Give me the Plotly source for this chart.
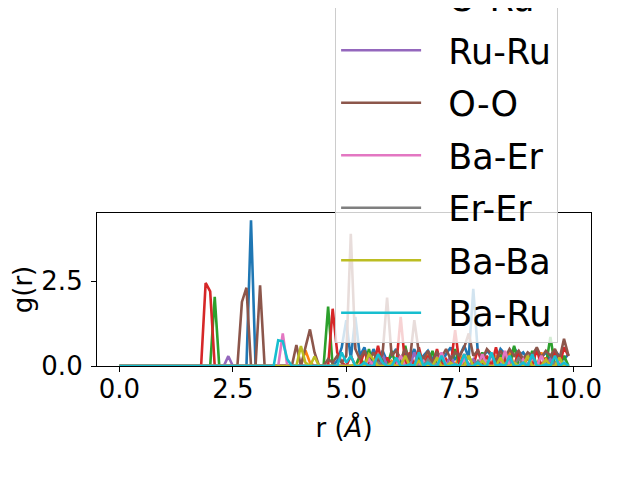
import plotly.graph_objects as go

r = [round(i * 0.1, 1) for i in range(100)]

names = ["Ba-O", "Er-Ru", "Er-O", "O-Ru", "Ru-Ru", "O-O", "Ba-Er", "Er-Er", "Ba-Ba", "Ba-Ru"]
colors = ["#1f77b4", "#ff7f0e", "#2ca02c", "#d62728", "#9467bd",
          "#8c564b", "#e377c2", "#7f7f7f", "#bcbd22", "#17becf"]

g_ba_o = [0, 0, 0, 0, 0, 0, 0, 0, 0, 0,
          0, 0, 0, 0, 0, 0, 0, 0, 0, 0,
          0, 0, 0, 0, 0, 0, 0, 0, 0, 4.3,
          0, 0, 0, 0, 0, 0, 0, 0, 0, 0,
          0, 0, 0, 0, 0, 0, 0, 0, 0.15, 0.55,
          1.35, 0.2, 1.45, 0.3, 0.55, 0.1, 0.5, 0.2, 0.45, 0.15,
          0.3, 0.5, 0.1, 0.35, 0.2, 0.5, 0.1, 0.3, 0.45, 0.2,
          0.4, 0.1, 0.35, 0.55, 0.2, 0.3, 0.6, 0.25, 2.28, 0.4,
          0.2, 0.45, 0.3, 0.15, 0.5, 0.35, 0.2, 0.55, 0.3, 0.4,
          0.2, 0.35, 0.5, 0.25, 0.4, 0.15, 0.45, 0.3, 0.2, 0.35]

g_er_ru = [0, 0, 0, 0, 0, 0, 0, 0, 0, 0,
           0, 0, 0, 0, 0, 0, 0, 0, 0, 0,
           0, 0, 0, 0, 0, 0, 0, 0, 0, 0,
           0, 0, 0, 0, 0, 0, 0, 0, 0, 0,
           0, 0.46, 0.1, 0, 0, 0, 0, 0, 0, 0,
           0, 0, 0, 0.2, 0, 0, 0, 0.35, 0, 0,
           0.15, 0, 0, 0, 0.3, 0, 0, 0, 0.4, 0,
           0, 0, 0.2, 0, 0, 0.35, 0, 0, 0, 0.1,
           0, 0, 0, 0.3, 0, 0, 0.45, 0, 0, 0,
           0.25, 0, 0, 0.4, 0, 0, 0, 0.3, 0, 0]

g_er_o = [0, 0, 0, 0, 0, 0, 0, 0, 0, 0,
          0, 0, 0, 0, 0, 0, 0, 0, 0, 0,
          0, 2.04, 0, 0, 0, 0, 0, 0, 0, 0,
          0, 0, 0, 0, 0, 0, 0, 0, 0, 0,
          0, 0, 0, 0, 0, 0, 1.75, 0, 0, 0,
          0, 0, 0, 0.3, 0, 0.5, 0, 0, 0.2, 0,
          0.45, 0, 0, 0.6, 0, 0, 0.3, 0, 0, 0.45,
          0, 0.25, 0, 0, 0.5, 0, 0, 0.3, 0, 0,
          0.4, 0, 0, 0, 0.35, 0, 0, 0.6, 0, 0.2,
          0, 0.45, 0, 0, 0, 0.86, 0, 0, 0.3, 0]

g_o_ru = [0, 0, 0, 0, 0, 0, 0, 0, 0, 0,
          0, 0, 0, 0, 0, 0, 0, 0, 0, 2.45,
          2.2, 0, 0, 0, 0, 0, 0, 0, 0, 0,
          0, 0, 0, 0, 0, 0, 0, 0, 0, 0,
          0, 0, 0, 0, 0, 0, 0, 1.69, 0.4, 0.1,
          0, 0.3, 0, 0, 0.45, 0, 0, 0.6, 0, 0.25,
          0, 0, 1.45, 0, 0.4, 0, 0.55, 0, 0.3, 0,
          0.5, 0, 0.2, 0, 1.06, 0, 0.35, 0, 0, 0.5,
          0, 0.3, 0, 0.55, 0, 0.2, 0, 0, 0.45, 0,
          0.3, 0, 0.5, 0, 0.25, 0, 0.4, 0, 0.55, 0.3]

g_ru_ru = [0, 0, 0, 0, 0, 0, 0, 0, 0, 0,
           0, 0, 0, 0, 0, 0, 0, 0, 0, 0,
           0, 0, 0, 0, 0.29, 0, 0, 0, 0, 0,
           0, 0, 0, 0, 0, 0, 0, 0, 0, 0,
           0, 0, 0, 0, 0, 0, 0, 0, 0, 0,
           0, 0, 0, 0, 0, 0, 0.15, 0, 0.35, 0,
           0, 0.2, 0, 0, 0, 0.4, 0, 0, 0, 0.15,
           0, 0, 0, 0.3, 0, 0, 0, 0, 0.2, 0,
           0, 0, 0.35, 0, 0, 0, 0.15, 0, 0, 0,
           0, 0.3, 0, 0, 0, 0.2, 0, 0, 0, 0]

g_o_o = [0, 0, 0, 0, 0, 0, 0, 0, 0, 0,
         0, 0, 0, 0, 0, 0, 0, 0, 0, 0,
         0, 0, 0, 0, 0, 0, 0, 1.89, 2.31, 0,
         0, 2.38, 0, 0, 0, 0, 0, 0, 0, 0.62,
         0, 0.55, 1.08, 0.4, 0, 0, 0.2, 0.1, 0.3, 0.1,
         0.3, 3.9, 0.5, 0.2, 0.45, 0.15, 0.4, 0.1, 0.35, 2.02,
         0.3, 0.45, 0.2, 0.5, 0.15, 1.35, 0.4, 0.2, 0.45, 0.1,
         0.4, 0.25, 0.5, 0.2, 0.4, 0.3, 0.55, 0.96, 0.3, 0.45,
         0.2, 0.5, 0.35, 0.15, 0.45, 0.25, 0.5, 0.3, 0.45, 0.2,
         0.4, 0.3, 0.55, 0.25, 0.45, 0.3, 0.5, 0.2, 0.8, 0.3]

g_ba_er = [0, 0, 0, 0, 0, 0, 0, 0, 0, 0,
           0, 0, 0, 0, 0, 0, 0, 0, 0, 0,
           0, 0, 0, 0, 0, 0, 0, 0, 0, 0,
           0, 0, 0, 0, 0, 0, 0.96, 0, 0, 0,
           0, 0, 0, 0, 0, 0, 0, 0, 0, 0,
           0, 0, 0, 0, 0, 0.2, 0, 0, 0, 0,
           0, 0, 0.3, 0, 0, 0, 0, 0.15, 0, 0,
           0, 0.4, 0, 0, 0, 0, 0.2, 0, 0, 0,
           0.35, 0, 0, 0, 0, 0.45, 0, 0, 0, 0.2,
           0, 0, 0, 0.3, 0, 0, 0, 0.15, 0, 0]

g_er_er = [0, 0, 0, 0, 0, 0, 0, 0, 0, 0,
           0, 0, 0, 0, 0, 0, 0, 0, 0, 0,
           0, 0, 0, 0, 0, 0, 0, 0, 0, 0,
           0, 0, 0, 0, 0, 0, 0, 0, 0, 0,
           0, 0, 0, 0, 0, 0, 0, 0, 0, 0,
           0, 0, 0, 0, 0, 0, 0, 0.1, 0, 0,
           0, 0, 0, 0, 0, 0, 0, 0, 0.2, 0,
           0, 0, 0, 0, 0, 0, 0, 0, 0, 0.15,
           0, 0, 0, 0, 0, 0, 0, 0, 0.25, 0,
           0, 0, 0, 0, 0, 0, 0.1, 0, 0, 0]

g_ba_ba = [0, 0, 0, 0, 0, 0, 0, 0, 0, 0,
           0, 0, 0, 0, 0, 0, 0, 0, 0, 0,
           0, 0, 0, 0, 0, 0, 0, 0, 0, 0,
           0, 0, 0, 0, 0, 0, 0, 0, 0, 0,
           0.59, 0.1, 0, 0.28, 0, 0, 0, 0, 0, 0,
           0, 0, 0.05, 0, 0, 0.35, 0.2, 0, 0, 0,
           0.1, 0, 0, 0.3, 0, 0, 0.15, 0, 0, 0,
           0.25, 0, 0, 0.1, 0, 0, 0, 0.3, 0, 0,
           0.15, 0, 0, 0, 0.25, 0, 0, 0.1, 0, 0,
           0.3, 0, 0, 0, 0.2, 0, 0, 0.25, 0, 0]

g_ba_ru = [0, 0, 0, 0, 0, 0, 0, 0, 0, 0,
           0, 0, 0, 0, 0, 0, 0, 0, 0, 0,
           0, 0, 0, 0, 0, 0, 0, 0, 0, 0,
           0, 0, 0, 0, 0, 0.76, 0.73, 0.2, 0, 0,
           0, 0, 0, 0, 0, 0, 0, 0, 0, 0.4,
           0.1, 0.3, 0, 0, 0.1, 0, 0, 0.35, 0.1, 0,
           0, 0.25, 0, 0, 0.05, 0, 0.4, 0, 0.1, 0,
           0, 0.3, 0, 0, 0.05, 0, 0.35, 0, 0, 0.1,
           0, 0, 0.4, 0, 0.05, 0, 0.3, 0, 0, 0.1,
           0, 0.35, 0, 0, 0.05, 0, 0.3, 0, 0.1, 0]

series = [g_ba_o, g_er_ru, g_er_o, g_o_ru, g_ru_ru, g_o_o, g_ba_er, g_er_er, g_ba_ba, g_ba_ru]

FONT = "DejaVu Sans"
PAD = "\u00a0\u00a0"
fig = go.Figure()
for name, col, ys in zip(names, colors, series):
    fig.add_trace(go.Scatter(x=r, y=ys, mode="lines", name=PAD + name,
                             line=dict(color=col, width=2.6), legendgroup=name))

axis_common = dict(showline=True, linecolor="black", linewidth=1.2, mirror=True,
                   ticks="outside", ticklen=5, tickwidth=1.2, tickcolor="black",
                   showgrid=False, zeroline=False,
                   tickfont=dict(family=FONT, size=26, color="black"))

fig.update_layout(
    width=624, height=464,
    margin=dict(l=89, r=41, t=205, b=106, autoexpand=False),
    paper_bgcolor="white", plot_bgcolor="white",
    font=dict(family=FONT, color="black"),
    xaxis=dict(range=[-0.495, 10.395], tickvals=[0, 2.5, 5, 7.5, 10], tickformat=".1f",
               ticklabelstandoff=-5,
               title=dict(text="r (<i>Å</i>)", font=dict(family=FONT, size=26), standoff=15),
               **axis_common),
    yaxis=dict(range=[0, 4.515], tickvals=[0, 2.5], tickformat=".1f",
               ticklabelstandoff=3,
               title=dict(text="g(r)", font=dict(family=FONT, size=26), standoff=8),
               **axis_common),
    legend=dict(x=0.482, xanchor="left", y=0.15, yanchor="bottom",
                bgcolor="rgba(255,255,255,0.8)", bordercolor="#cccccc", borderwidth=1,
                font=dict(family=FONT, size=35, color="black"),
                tracegroupgap=4, maxheight=2000, itemwidth=80),
)

fig.write_html("out.html")
